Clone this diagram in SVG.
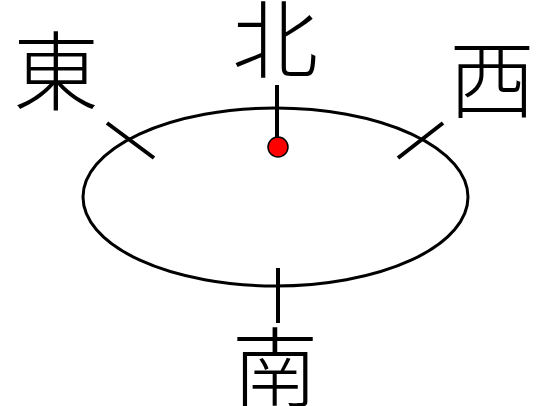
<svg xmlns="http://www.w3.org/2000/svg" width="546" height="406" viewBox="0 0 546 406">
<style>
.lbl{font-family:"Noto Sans CJK JP","Noto Sans CJK SC",sans-serif;font-size:86px;font-weight:300;fill:#000;text-anchor:middle}
.tick{stroke:#000;stroke-width:4;fill:none}
</style>
<rect width="546" height="406" fill="#fff"/>
<g id="connectors">
<ellipse cx="275.5" cy="197" rx="192.5" ry="89" fill="none" stroke="#000" stroke-width="3"/>
<line class="tick" x1="277" y1="85" x2="277" y2="138"/>
<line class="tick" x1="278" y1="268" x2="278" y2="323"/>
<line class="tick" x1="107" y1="123" x2="154" y2="158"/>
<line class="tick" x1="443" y1="123" x2="398" y2="158"/>
</g>
<g id="dot"><circle cx="278" cy="147" r="10" fill="#f00" stroke="#000" stroke-width="1.5"/></g>
<g id="north"><text class="lbl" x="275" y="72">北</text></g>
<g id="east"><text class="lbl" x="56" y="104">東</text></g>
<g id="west"><text class="lbl" x="492" y="112">西</text></g>
<g id="south"><text class="lbl" x="275" y="400">南</text></g>
</svg>
